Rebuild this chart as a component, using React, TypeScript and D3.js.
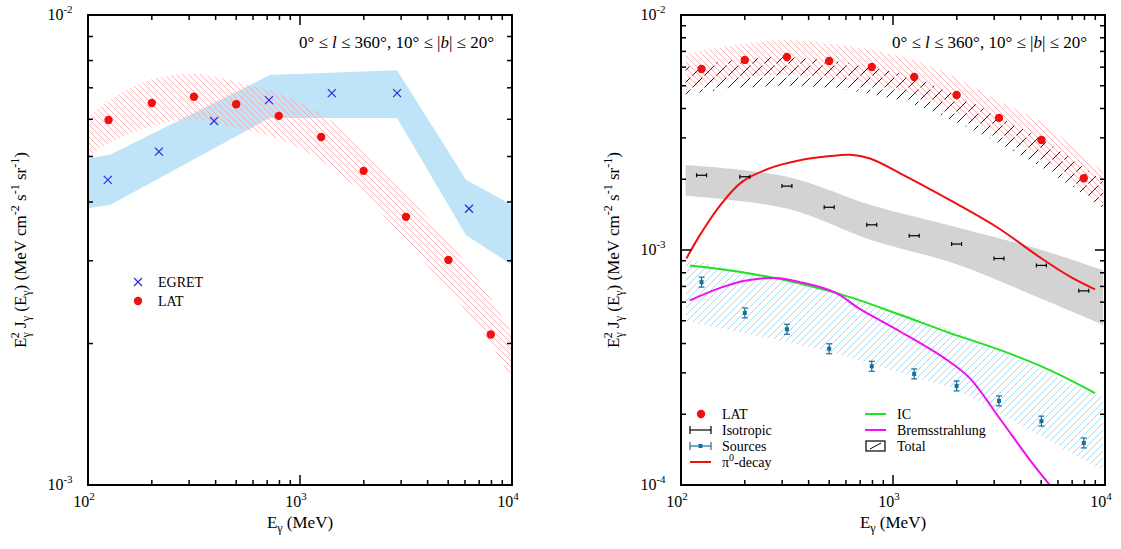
import * as d3 from "d3";

// ---- left panel data ----
const latE = [125, 200, 316, 500, 794, 1259, 1995, 3162, 5012, 7943];
const latLeft = [5.98e-3, 6.5e-3, 6.7e-3, 6.46e-3, 6.1e-3, 5.5e-3, 4.66e-3, 3.72e-3, 3.01e-3, 2.09e-3];
const egretE = [124, 216, 393, 714, 1413, 2870, 6270];
const egretF = [4.46e-3, 5.12e-3, 5.95e-3, 6.59e-3, 6.82e-3, 6.82e-3, 3.87e-3];
const egretBandE = [100, 127, 721, 2870, 6070, 10000];
const egretBandHi = [4.95e-3, 5.04e-3, 7.45e-3, 7.63e-3, 4.46e-3, 3.94e-3];
const egretBandLo = [3.88e-3, 3.94e-3, 6.04e-3, 6.04e-3, 3.4e-3, 2.94e-3];
const latBandE = [100, 127, 200, 316, 500, 794, 1259, 1995, 3162, 5012, 7943, 10000];
const latBandHiL = [6.05e-3, 6.6e-3, 7.3e-3, 7.5e-3, 7.2e-3, 6.8e-3, 6.15e-3, 5.2e-3, 4.15e-3, 3.3e-3, 2.5e-3, 2.1e-3];
const latBandLoL = [5.0e-3, 5.35e-3, 5.8e-3, 6.0e-3, 5.75e-3, 5.45e-3, 4.9e-3, 4.15e-3, 3.3e-3, 2.6e-3, 2.0e-3, 1.66e-3];

// ---- right panel data ----
const latRight = [5.89e-3, 6.44e-3, 6.63e-3, 6.37e-3, 6.01e-3, 5.45e-3, 4.57e-3, 3.65e-3, 2.94e-3, 2.02e-3];
const isoF = [2.08e-3, 2.05e-3, 1.87e-3, 1.52e-3, 1.28e-3, 1.15e-3, 1.06e-3, 9.2e-4, 8.6e-4, 6.7e-4];
const srcF = [7.3e-4, 5.4e-4, 4.6e-4, 3.8e-4, 3.2e-4, 2.97e-4, 2.64e-4, 2.28e-4, 1.87e-4, 1.51e-4];
const bandE = [105, 200, 316, 500, 794, 1259, 1995, 3162, 5012, 7943, 9800];
const totalHi = [6.0e-3, 6.5e-3, 6.6e-3, 6.4e-3, 6.0e-3, 5.4e-3, 4.55e-3, 3.7e-3, 2.95e-3, 2.25e-3, 1.95e-3];
const totalLo = [4.6e-3, 4.9e-3, 5.0e-3, 4.9e-3, 4.6e-3, 4.15e-3, 3.5e-3, 2.85e-3, 2.25e-3, 1.72e-3, 1.5e-3];
const latBandHiR = [6.85e-3, 7.55e-3, 7.8e-3, 7.55e-3, 7.1e-3, 6.4e-3, 5.4e-3, 4.3e-3, 3.5e-3, 2.5e-3, 2.15e-3];
const latBandLoR = [4.9e-3, 5.4e-3, 5.6e-3, 5.4e-3, 5.1e-3, 4.6e-3, 3.85e-3, 3.1e-3, 2.5e-3, 1.78e-3, 1.52e-3];
const isoBandE = [105, 316, 794, 1995, 5012, 9800];
const isoBandHi = [2.3e-3, 2.05e-3, 1.55e-3, 1.25e-3, 1.0e-3, 8.2e-4];
const isoBandLo = [1.7e-3, 1.5e-3, 1.1e-3, 8.7e-4, 6.2e-4, 4.8e-4];
const srcBandE = [105, 500, 1995, 9800];
const srcBandHi = [9.2e-4, 6.75e-4, 4.5e-4, 2.35e-4];
const srcBandLo = [5.0e-4, 3.7e-4, 2.55e-4, 1.15e-4];
const pi0E = [106, 123, 153, 194, 263, 364, 505, 627, 779, 1080, 1858, 3097, 4935, 6839, 8970];
const pi0F = [9.2e-4, 1.16e-3, 1.55e-3, 1.95e-3, 2.23e-3, 2.41e-3, 2.51e-3, 2.54e-3, 2.45e-3, 2.12e-3, 1.63e-3, 1.25e-3, 9.3e-4, 7.7e-4, 6.8e-4];
const icE = [110, 194, 364, 627, 1080, 1858, 3212, 5485, 8970];
const icF = [8.6e-4, 8.05e-4, 7.2e-4, 6.3e-4, 5.3e-4, 4.43e-4, 3.75e-4, 3.08e-4, 2.46e-4];
const brE = [110, 153, 200, 278, 364, 532, 700, 1080, 1760, 2300, 3212, 4420, 5485];
const brF = [6.1e-4, 6.9e-4, 7.4e-4, 7.6e-4, 7.3e-4, 6.6e-4, 5.6e-4, 4.5e-4, 3.45e-4, 2.85e-4, 1.9e-4, 1.28e-4, 1.0e-4];

const FONT = "'Liberation Serif', 'Times New Roman', 'DejaVu Serif', serif";
const T = 15;
const B = 485;

type Scales = { x: d3.ScaleLogarithmic<number, number>; y: d3.ScaleLogarithmic<number, number> };

function band(s: Scales, e: number[], lo: number[], hi: number[], smooth = true) {
  return d3
    .area<number>()
    .x((_, i) => s.x(e[i]))
    .y0((_, i) => s.y(lo[i]))
    .y1((_, i) => s.y(hi[i]))
    .curve(smooth ? d3.curveCatmullRom : d3.curveLinear)(e) as string;
}

function line(s: Scales, e: number[], f: number[]) {
  return d3
    .line<number>()
    .x((_, i) => s.x(e[i]))
    .y((_, i) => s.y(f[i]))
    .curve(d3.curveCatmullRom)(e) as string;
}

function Sup({ base, exp }: { base: string; exp: string }) {
  return (
    <>
      {base}
      <tspan dy={-7} fontSize={11}>{exp}</tspan>
      <tspan dy={7}></tspan>
    </>
  );
}

function Frame({ s, l, r, yMin, yMax }: { s: Scales; l: number; r: number; yMin: number; yMax: number }) {
  const xMinor: number[] = [];
  for (let d = 100; d < 10000; d *= 10) for (let k = 2; k < 10; k++) xMinor.push(d * k);
  const yMinor: number[] = [];
  for (let d = yMin; d < yMax * 0.999; d *= 10) for (let k = 2; k < 10; k++) yMinor.push(d * k);
  const yMajor: number[] = [];
  for (let d = yMin; d <= yMax * 1.001; d *= 10) yMajor.push(d);
  const xMajor = [100, 1000, 10000];
  return (
    <g stroke="#000">
      {xMinor.map((v) => (
        <g key={"xm" + v}>
          <line x1={s.x(v)} x2={s.x(v)} y1={B} y2={B - 5} strokeWidth={1.5} />
          <line x1={s.x(v)} x2={s.x(v)} y1={T} y2={T + 5} strokeWidth={1.5} />
        </g>
      ))}
      {xMajor.map((v) => (
        <g key={"xM" + v}>
          <line x1={s.x(v)} x2={s.x(v)} y1={B} y2={B - 10} strokeWidth={1.5} />
          <line x1={s.x(v)} x2={s.x(v)} y1={T} y2={T + 10} strokeWidth={1.5} />
          <text x={s.x(v) - 4} y={B + 22} textAnchor="middle" stroke="none" fontSize={16}>
            <Sup base="10" exp={String(Math.round(Math.log10(v)))} />
          </text>
        </g>
      ))}
      {yMinor.map((v) => (
        <g key={"ym" + v}>
          <line x1={l} x2={l + 5} y1={s.y(v)} y2={s.y(v)} strokeWidth={1.5} />
          <line x1={r} x2={r - 5} y1={s.y(v)} y2={s.y(v)} strokeWidth={1.5} />
        </g>
      ))}
      {yMajor.map((v) => (
        <g key={"yM" + v}>
          <line x1={l} x2={l + 10} y1={s.y(v)} y2={s.y(v)} strokeWidth={1.5} />
          <line x1={r} x2={r - 10} y1={s.y(v)} y2={s.y(v)} strokeWidth={1.5} />
          <text x={l - 28} y={s.y(v) + 5} textAnchor="middle" stroke="none" fontSize={16}>
            <Sup base="10" exp={String(Math.round(Math.log10(v)))} />
          </text>
        </g>
      ))}
      <rect x={l} y={T} width={r - l} height={B - T} fill="none" strokeWidth={2} />
    </g>
  );
}

function Labels({ l, r }: { l: number; r: number }) {
  const cx = (l + r) / 2;
  return (
    <g fill="#000">
      <text x={cx} y={528} textAnchor="middle" fontSize={17}>
        E<tspan dy={4} fontSize={12}>γ</tspan>
        <tspan dy={-4}> (MeV)</tspan>
      </text>
      <text transform={`translate(${l - 62},${(T + B) / 2}) rotate(-90)`} textAnchor="middle" fontSize={17}>
        E<tspan dy={4} fontSize={12}>γ</tspan>
        <tspan dy={-11} dx={-6} fontSize={12}>2</tspan>
        <tspan dy={7}> J</tspan>
        <tspan dy={4} fontSize={12}>γ</tspan>
        <tspan dy={-4}> (E</tspan>
        <tspan dy={4} fontSize={12}>γ</tspan>
        <tspan dy={-4}>) (MeV cm</tspan>
        <tspan dy={-7} fontSize={12}>-2</tspan>
        <tspan dy={7}> s</tspan>
        <tspan dy={-7} fontSize={12}>-1</tspan>
        <tspan dy={7}> sr</tspan>
        <tspan dy={-7} fontSize={12}>-1</tspan>
        <tspan dy={7}>)</tspan>
      </text>
      <text x={r - 18} y={48} textAnchor="end" fontSize={17}>
        0° ≤ <tspan fontStyle="italic">l</tspan> ≤ 360°, 10° ≤ |<tspan fontStyle="italic">b</tspan>| ≤ 20°
      </text>
    </g>
  );
}

export default function App() {
  const xL = d3.scaleLog().domain([100, 10000]).range([88, 512]);
  const yL = d3.scaleLog().domain([1e-3, 1e-2]).range([B, T]);
  const xR = d3.scaleLog().domain([100, 10000]).range([681, 1105]);
  const yR = d3.scaleLog().domain([1e-4, 1e-2]).range([B, T]);
  const sL = { x: xL, y: yL };
  const sR = { x: xR, y: yR };

  return (
    <svg width={1121} height={549} style={{ position: "absolute", left: 0, top: 0, background: "#fff", fontFamily: FONT }}>
      <defs>
        <pattern id="hRed" width={6} height={6} patternUnits="userSpaceOnUse">
          <path d="M0,0 L6,6 M-3,3 L3,9 M3,-3 L9,3" stroke="#f5a3a8" strokeWidth={0.8} />
        </pattern>
        <pattern id="hBlack" width={12} height={12} patternUnits="userSpaceOnUse">
          <path d="M0,12 L12,0 M-6,6 L6,-6 M6,18 L18,6" stroke="#222" strokeWidth={1} strokeDasharray="9 3" />
        </pattern>
        <pattern id="hBlue" width={7} height={7} patternUnits="userSpaceOnUse">
          <path d="M0,7 L7,0 M-3.5,3.5 L3.5,-3.5 M3.5,10.5 L10.5,3.5" stroke="#9ad4ef" strokeWidth={0.9} />
        </pattern>
        <clipPath id="cL"><rect x={88} y={T} width={424} height={B - T} /></clipPath>
        <clipPath id="cR"><rect x={681} y={T} width={424} height={B - T} /></clipPath>
      </defs>

      {/* left panel */}
      <g clipPath="url(#cL)">
        <path d={band(sL, egretBandE, egretBandLo, egretBandHi, false)} fill="#bfe3f7" />
        <path d={band(sL, latBandE, latBandLoL, latBandHiL)} fill="url(#hRed)" />
        {egretE.map((e, i) => (
          <path key={i} d={`M${xL(e) - 4},${yL(egretF[i]) - 4}l8,8m0,-8l-8,8`} stroke="#2a2ae0" strokeWidth={1.2} />
        ))}
        {latE.map((e, i) => (
          <circle key={i} cx={xL(e)} cy={yL(latLeft[i])} r={4.2} fill="#f01010" />
        ))}
      </g>
      <Frame s={sL} l={88} r={512} yMin={1e-3} yMax={1e-2} />
      <Labels l={88} r={512} />
      <g fontSize={14}>
        <path d="M134,278l8,8m0,-8l-8,8" stroke="#2a2ae0" strokeWidth={1.2} />
        <text x={158} y={287}>EGRET</text>
        <circle cx={138} cy={301} r={4.2} fill="#f01010" />
        <text x={158} y={306}>LAT</text>
      </g>

      {/* right panel */}
      <g clipPath="url(#cR)">
        <path d={band(sR, srcBandE, srcBandLo, srcBandHi, false)} fill="url(#hBlue)" />
        <path d={band(sR, isoBandE, isoBandLo, isoBandHi)} fill="#d3d3d3" />
        <path d={band(sR, bandE, totalLo, totalHi)} fill="url(#hBlack)" />
        <path d={band(sR, bandE, latBandLoR, latBandHiR)} fill="url(#hRed)" />
        <path d={line(sR, icE, icF)} fill="none" stroke="#22e022" strokeWidth={2} />
        <path d={line(sR, brE, brF)} fill="none" stroke="#f010f0" strokeWidth={2} />
        <path d={line(sR, pi0E, pi0F)} fill="none" stroke="#f01010" strokeWidth={2} />
        {latE.map((e, i) => (
          <g key={i}>
            <g stroke="#000" strokeWidth={1.2}>
              <line x1={xR(e) - 5} x2={xR(e) + 5} y1={yR(isoF[i])} y2={yR(isoF[i])} />
              <line x1={xR(e) - 5} x2={xR(e) - 5} y1={yR(isoF[i]) - 2} y2={yR(isoF[i]) + 2} />
              <line x1={xR(e) + 5} x2={xR(e) + 5} y1={yR(isoF[i]) - 2} y2={yR(isoF[i]) + 2} />
            </g>
            <g stroke="#1a6e9a" strokeWidth={1.2}>
              <line x1={xR(e)} x2={xR(e)} y1={yR(srcF[i] * 1.05)} y2={yR(srcF[i] / 1.05)} />
              <line x1={xR(e) - 3} x2={xR(e) + 3} y1={yR(srcF[i] * 1.05)} y2={yR(srcF[i] * 1.05)} />
              <line x1={xR(e) - 3} x2={xR(e) + 3} y1={yR(srcF[i] / 1.05)} y2={yR(srcF[i] / 1.05)} />
            </g>
            <rect x={xR(e) - 2} y={yR(srcF[i]) - 2} width={4} height={4} fill="#1a6e9a" />
            <circle cx={xR(e)} cy={yR(latRight[i])} r={4.2} fill="#f01010" />
          </g>
        ))}
      </g>
      <Frame s={sR} l={681} r={1105} yMin={1e-4} yMax={1e-2} />
      <Labels l={681} r={1105} />
      <g fontSize={14}>
        <circle cx={701} cy={414} r={4.2} fill="#f01010" />
        <text x={722} y={419}>LAT</text>
        <g stroke="#000" strokeWidth={1.2}>
          <line x1={690} x2={711} y1={430} y2={430} />
          <line x1={690} x2={690} y1={426} y2={434} />
          <line x1={711} x2={711} y1={426} y2={434} />
        </g>
        <text x={722} y={435}>Isotropic</text>
        <g stroke="#1a6e9a" strokeWidth={1.2}>
          <line x1={690} x2={711} y1={446} y2={446} />
          <line x1={690} x2={690} y1={442} y2={450} />
          <line x1={711} x2={711} y1={442} y2={450} />
        </g>
        <rect x={698.5} y={444} width={4} height={4} fill="#1a6e9a" />
        <text x={722} y={451}>Sources</text>
        <line x1={690} x2={711} y1={462} y2={462} stroke="#f01010" strokeWidth={2} />
        <text x={722} y={467}>π<tspan dy={-6} fontSize={10}>0</tspan><tspan dy={6}>-decay</tspan></text>
        <line x1={865} x2={886} y1={414} y2={414} stroke="#22e022" strokeWidth={2} />
        <text x={897} y={419}>IC</text>
        <line x1={865} x2={886} y1={430} y2={430} stroke="#f010f0" strokeWidth={2} />
        <text x={897} y={435}>Bremsstrahlung</text>
        <rect x={866} y={441} width={19} height={10} fill="none" stroke="#000" strokeWidth={1.2} />
        <line x1={870} x2={881} y1={449} y2={443} stroke="#000" />
        <text x={897} y={451}>Total</text>
      </g>
    </svg>
  );
}
